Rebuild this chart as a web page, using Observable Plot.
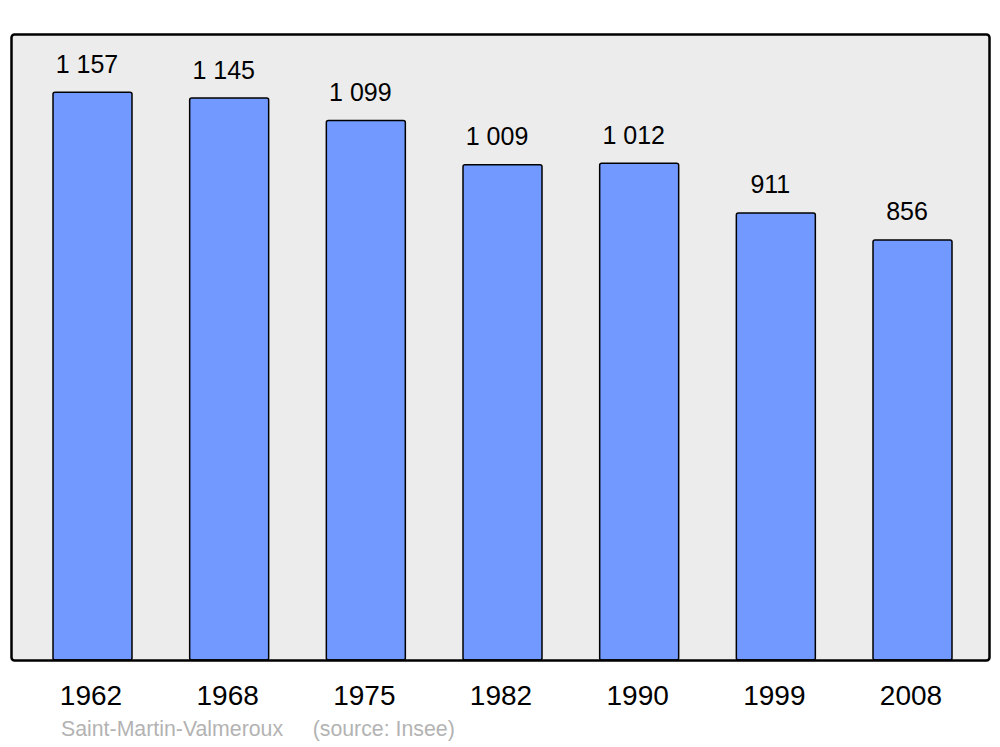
<!DOCTYPE html>
<html><head><meta charset="utf-8">
<script src="https://cdn.jsdelivr.net/npm/d3@7"></script>
<script src="https://cdn.jsdelivr.net/npm/@observablehq/plot@0.6"></script>
<style>
body{margin:0;background:#fff;font-family:"Liberation Sans",Arial,sans-serif;}
#wrap{position:relative;width:1000px;height:747px;}
#cap{position:absolute;left:61px;top:719px;font-size:21.3px;color:#b3b3b3;white-space:pre;line-height:1;}
</style></head>
<body><div id="wrap"><div id="chart"></div><div id="cap">Saint-Martin-Valmeroux     (source: Insee)</div></div>
<script>
const years = ["1962","1968","1975","1982","1990","1999","2008"];
const population = [1157,1145,1099,1009,1012,911,856];
const data = years.map((y,i)=>({year:y, pop:population[i]}));
const fmt = d3.formatLocale({thousands:" ", grouping:[3], decimal:","}).format(",");

const chart = Plot.plot({
  width:1000, height:747,
  marginLeft:11, marginRight:11, marginTop:34, marginBottom:87,
  style:{fontFamily:"Liberation Sans, Arial, sans-serif", background:"transparent"},
  x:{domain:years, paddingInner:0.422, paddingOuter:0, insetLeft:42, insetRight:37, round:false, label:null},
  y:{domain:[0,1275.5], axis:null},
  marks:[
    Plot.frame({fill:"#ececec", stroke:null}),
    Plot.barY(data,{x:"year", y:"pop", fill:"#7299ff", stroke:"#000", strokeWidth:1.5, rx:2}),
    Plot.text(data,{x:"year", y:"pop", text:d=>fmt(d.pop), dy:-20, dx:-6, lineAnchor:"bottom", fontSize:25, fill:"#000"}),
    Plot.frame({stroke:"#000", strokeWidth:2.5, rx:3}),
    Plot.axisX({tickSize:0, tickPadding:25, dx:-2, fontSize:28, label:null, color:"#000"})
  ]
});
document.getElementById("chart").appendChild(chart);
</script></body></html>
